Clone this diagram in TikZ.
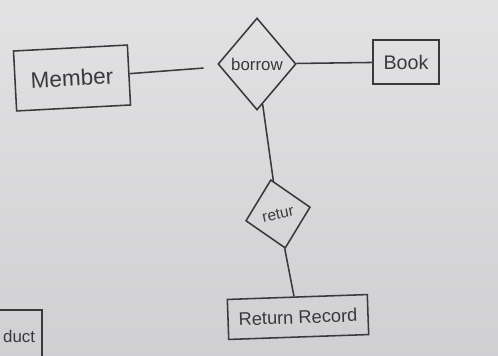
\documentclass[tikz,border=0pt]{standalone}
\usepackage{fontspec}
\setmainfont{Liberation Sans}
\usepackage{xcolor}
\usepackage{tikz}
\usetikzlibrary{shapes.geometric}

\definecolor{paper}{RGB}{219,219,221}
\definecolor{ink}{RGB}{58,58,60}

\begin{document}
\begin{tikzpicture}[
    x=0.025cm, y=-0.025cm,
    entity/.style={rectangle, draw=ink, line width=1.1pt, text=ink, inner sep=2pt},
    rel/.style={diamond, draw=ink, line width=1.1pt, text=ink, inner sep=0pt},
    link/.style={draw=ink, line width=1.1pt}
]
% sheet of paper
\shade[top color=paper!80!white, bottom color=paper!95!black] (0,0) rectangle (498,355);
\useasboundingbox (0,0) rectangle (498,355);
\clip (0,0) rectangle (498,355);

\node[entity, minimum width=2.85cm, minimum height=1.5cm, rotate=3, font=\fontsize{16}{18}\selectfont] (member) at (72,78) {Member};
\node[rel, minimum width=1.95cm, minimum height=2.3cm, font=\fontsize{12}{14}\selectfont] (borrow) at (257,64) {borrow};
\node[entity, minimum width=1.65cm, minimum height=1.1cm, font=\fontsize{14}{16}\selectfont] (book) at (406,62) {Book};
\node[rel, minimum width=1.65cm, minimum height=1.75cm, rotate=12, font=\fontsize{11}{13}\selectfont] (retur) at (278,214) {retur};
\node[entity, minimum width=3.5cm, minimum height=1cm, rotate=2, font=\fontsize{13}{15}\selectfont] (record) at (298,317) {Return Record};
\node[entity, minimum width=1.6cm, minimum height=1.3cm, font=\fontsize{12}{14}\selectfont] (product) at (10,336) {\hspace*{13pt}duct};

\draw[link, shorten >=0.4cm] (member) -- (borrow);
\draw[link] (borrow) -- (book);
\draw[link] (borrow) -- (retur);
\draw[link] (retur) -- (record);
\end{tikzpicture}
\end{document}
